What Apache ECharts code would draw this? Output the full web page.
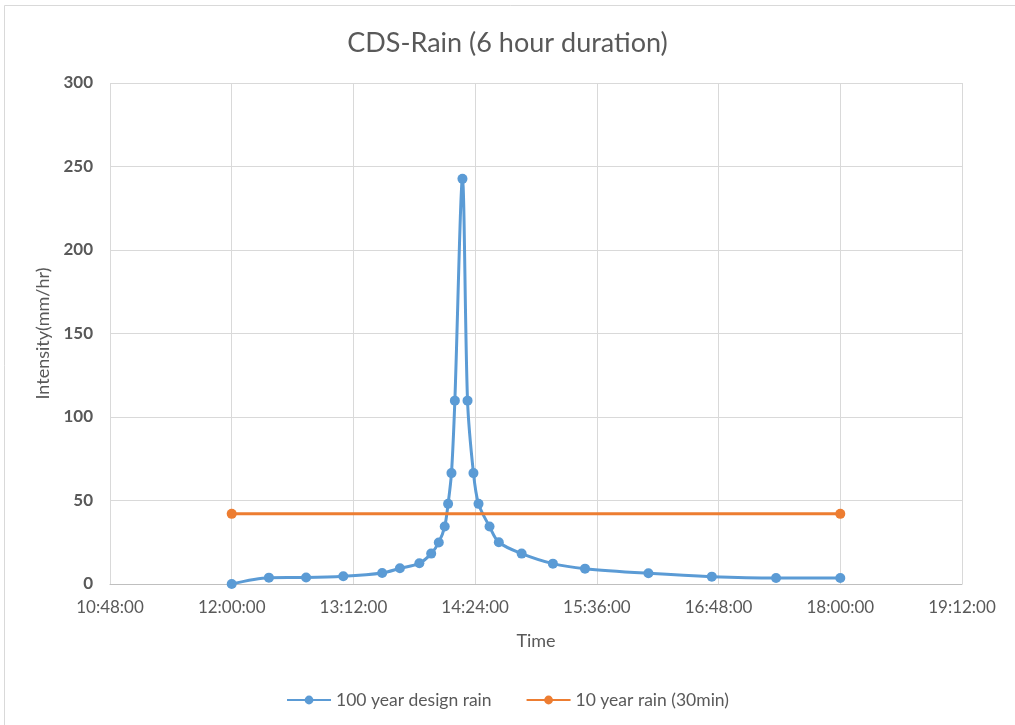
<!DOCTYPE html>
<html>
<head>
<meta charset="utf-8">
<title>CDS-Rain (6 hour duration)</title>
<script src="https://cdn.jsdelivr.net/npm/echarts@6/dist/echarts.min.js"></script>
<style>
  html, body { margin: 0; padding: 0; background: #ffffff; }
  #chart { width: 1015px; height: 725px; }
</style>
</head>
<body>
<div id="chart"></div>
<script>
// Chicago design storm (6 h), clock time of each step
const designTimes = ['12:00:00', '12:22:00', '12:44:00', '13:06:00', '13:29:00', '13:39:30',
  '13:51:00', '13:58:00', '14:02:30', '14:06:00', '14:08:00', '14:10:00', '14:12:00',
  '14:16:30', '14:19:30', '14:23:00', '14:26:00', '14:32:30', '14:38:00', '14:51:30',
  '15:10:00', '15:29:00', '16:06:30', '16:44:00', '17:22:00', '18:00:00'];
// 100 year design rain intensity (mm/hr)
const designIntensity = [0, 3.8, 3.9, 4.6, 6.6, 9.4,
  12.4, 18.2, 24.9, 34.4, 48, 66.4, 109.8,
  242.6, 109.8, 66.4, 48, 34.4, 25, 18.2,
  12.2, 9.2, 6.4, 4.4, 3.6, 3.6];

// 10 year, 30 min rain as a constant intensity over the storm
const refTimes = ['12:00:00', '18:00:00'];
const refIntensity = [42, 42];

const seriesNames = ['100 year design rain', '10 year rain (30min)'];

// axis range in minutes after midnight: 10:48 .. 19:12 in 72 min steps
const xMinLabel = '10:48:00';
const xMaxLabel = '19:12:00';
const xStepMinutes = 72;

function toMinutes(s) {
  const p = s.split(':').map(Number);
  return p[0] * 60 + p[1] + (p[2] || 0) / 60;
}
function toClock(m) {
  const total = Math.round(m * 60);
  const h = Math.floor(total / 3600);
  const mi = Math.floor((total % 3600) / 60);
  const se = total % 60;
  const pad = n => String(n).padStart(2, '0');
  return pad(h) + ':' + pad(mi) + ':' + pad(se);
}

const FONT = 'Lato, "Open Sans", sans-serif';
const TEXT = '#595959';

const chart = echarts.init(document.getElementById('chart'), null, { renderer: 'canvas' });
chart.setOption({
  backgroundColor: '#ffffff',
  animation: false,
  textStyle: { fontFamily: FONT },
  graphic: [{
    type: 'rect',
    shape: { x: 4.5, y: 5.5, width: 1030, height: 740 },
    style: { fill: 'none', stroke: '#d9d9d9', lineWidth: 1 },
    silent: true
  }],
  title: {
    text: 'CDS-Rain (6 hour duration)',
    left: 'center',
    top: 25,
    textStyle: { fontFamily: FONT, fontSize: 27, fontWeight: 'normal', color: TEXT }
  },
  legend: {
    bottom: 11,
    left: 'center',
    itemWidth: 44,
    itemHeight: 11,
    itemGap: 34,
    textStyle: { fontFamily: FONT, fontSize: 17.5, color: TEXT },
    data: seriesNames
  },
  grid: { left: 110, right: 53, top: 83, bottom: 141, containLabel: false },
  xAxis: {
    type: 'value',
    min: toMinutes(xMinLabel),
    max: toMinutes(xMaxLabel),
    interval: xStepMinutes,
    name: 'Time',
    nameLocation: 'middle',
    nameGap: 48,
    nameTextStyle: { fontFamily: FONT, fontSize: 18, color: TEXT },
    axisLine: { show: true, lineStyle: { color: '#bfbfbf', width: 1 } },
    axisTick: { show: false },
    axisLabel: {
      margin: 15,
      fontFamily: FONT, fontSize: 17, color: TEXT,
      formatter: v => toClock(v)
    },
    splitLine: { show: true, lineStyle: { color: '#d9d9d9', width: 1 } }
  },
  yAxis: {
    type: 'value',
    min: 0,
    max: 300,
    interval: 50,
    name: 'Intensity(mm/hr)',
    nameLocation: 'middle',
    nameGap: 56,
    nameTextStyle: { fontFamily: FONT, fontSize: 18, color: TEXT },
    axisLine: { show: false },
    axisTick: { show: false },
    axisLabel: { margin: 17, fontFamily: FONT, fontSize: 17, fontWeight: 'bold', color: TEXT },
    splitLine: { show: true, lineStyle: { color: '#d9d9d9', width: 1 } }
  },
  series: [
    {
      name: seriesNames[0],
      type: 'line',
      smooth: 0.3,
      symbol: 'circle',
      symbolSize: 10,
      color: '#5B9BD5',
      lineStyle: { width: 3, color: '#5B9BD5' },
      itemStyle: { color: '#5B9BD5' },
      data: designTimes.map((t, i) => [toMinutes(t), designIntensity[i]]),
      z: 2
    },
    {
      name: seriesNames[1],
      type: 'line',
      symbol: 'circle',
      symbolSize: 10,
      color: '#ED7D31',
      lineStyle: { width: 3, color: '#ED7D31' },
      itemStyle: { color: '#ED7D31' },
      data: refTimes.map((t, i) => [toMinutes(t), refIntensity[i]]),
      z: 3
    }
  ]
});
</script>
</body>
</html>
